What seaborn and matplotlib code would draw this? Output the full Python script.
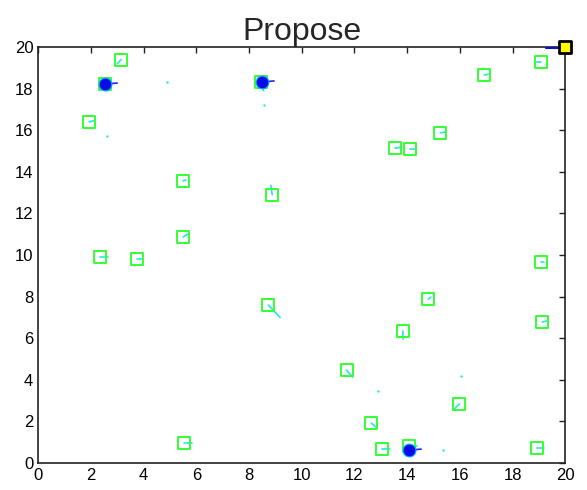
import numpy as np
import pandas as pd
import matplotlib
matplotlib.use("Agg")
import matplotlib.pyplot as plt
import seaborn as sns

# agent positions (green squares) and their short heading vectors
agent_x = [3.15, 1.94, 5.50, 5.50, 2.35, 3.76, 8.88, 8.73, 5.54, 11.70, 12.64,
           13.05, 14.08, 13.85, 14.80, 15.98, 13.55, 14.12, 15.26, 16.93, 19.09,
           19.09, 19.13, 18.94, 2.54, 8.46]
agent_y = [19.40, 16.40, 13.56, 10.87, 9.90, 9.80, 12.90, 7.60, 0.96, 4.47, 1.92,
           0.67, 0.80, 6.35, 7.88, 2.84, 15.14, 15.10, 15.87, 18.65, 19.28,
           9.66, 6.78, 0.72, 18.20, 18.30]
head_dx = [-0.15, 0.15, 0.10, 0.20, 0.30, 0.20, -0.05, 0.45, 0.30, 0.23, 0.23,
           0.30, 0.30, 0.00, 0.10, -0.23, 0.25, 0.20, 0.20, 0.15, -0.20,
           0.10, 0.15, 0.25, 0.10, 0.10]
head_dy = [-0.20, 0.05, 0.05, 0.15, 0.00, 0.00, 0.45, -0.60, 0.00, -0.34, -0.24,
           0.00, 0.00, -0.40, 0.10, -0.29, 0.05, 0.00, 0.05, 0.05, 0.00,
           0.00, 0.05, 0.00, -0.30, -0.40]

# clustered particles (blue blobs)
cluster_x = [2.55, 8.50, 14.08]
cluster_y = [18.22, 18.32, 0.62]

# stray samples
stray_x = [4.90, 2.60, 8.55, 12.90, 16.05, 15.35]
stray_y = [18.30, 15.70, 17.20, 3.46, 4.20, 0.65]

# goal and incoming path
goal_x = [20.0]
goal_y = [20.0]
path_x = [19.25, 20.0]
path_y = [19.95, 19.95]

sns.set_style("white")
plt.rcParams["font.family"] = ["Liberation Sans", "DejaVu Sans"]
plt.rcParams["xtick.direction"] = "in"
plt.rcParams["ytick.direction"] = "in"

fig, ax = plt.subplots(figsize=(5.87, 4.90), dpi=100)
fig.subplots_adjust(left=0.065, right=0.963, top=0.904, bottom=0.055)

agents = pd.DataFrame({"x": agent_x, "y": agent_y})

# heading lines
for x, y, dx, dy in zip(agent_x, agent_y, head_dx, head_dy):
    ax.plot([x, x + dx], [y, y + dy], color="#22e8e8", lw=1.2, zorder=2)

sns.scatterplot(data=agents, x="x", y="y", marker="s", s=75, facecolors="none",
                edgecolor="#33ff33", linewidth=1.4, ax=ax, zorder=3)

# blue clusters
for cx, cy in zip(cluster_x, cluster_y):
    ax.plot([cx, cx + 0.45], [cy, cy + 0.05], color="#2020ff", lw=1.2, zorder=4)
sns.scatterplot(x=cluster_x, y=cluster_y, marker="o", s=85, color="#0a0ae6",
                edgecolor="#00b0ff", linewidth=0.8, ax=ax, zorder=5)

sns.scatterplot(x=stray_x, y=stray_y, marker=".", s=12, color="#22e8e8",
                linewidth=0, ax=ax, zorder=3)

ax.plot(path_x, path_y, color="#1010d0", lw=1.5, zorder=6, clip_on=False)
sns.scatterplot(x=goal_x, y=goal_y, marker="s", s=80, color="#ffff00",
                edgecolor="black", linewidth=2, ax=ax, zorder=7, clip_on=False)

ax.set_xlim(0, 20)
ax.set_ylim(0, 20)
ax.set_xticks(np.arange(0, 21, 2))
ax.set_yticks(np.arange(0, 21, 2))
ax.tick_params(top=True, right=True, length=4, width=1, labelsize=12,
               color="#222222", labelcolor="black")
for sp in ax.spines.values():
    sp.set_color("#222222")
    sp.set_linewidth(1.2)
ax.set_xlabel("")
ax.set_ylabel("")
ax.set_title("Propose", fontsize=23, pad=5)

fig.savefig("out.png", dpi=100)
